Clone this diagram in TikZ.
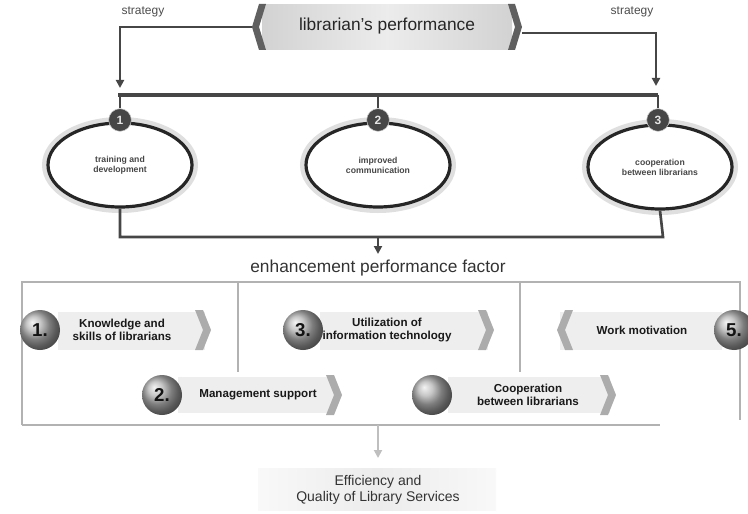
\documentclass[tikz,border=0pt]{standalone}
\usepackage{fontspec}
\setmainfont{Liberation Sans}
\usetikzlibrary{arrows.meta,shapes.geometric,calc}
\begin{document}
\begin{tikzpicture}[x=0.75pt,y=-0.75pt,
  conn/.style={draw=gray!55!black, line width=2pt},
  frameline/.style={draw=gray!60, line width=1.6pt},
  arr/.style={-{Triangle[length=6pt,width=6pt]}},
  oval/.style={ellipse, draw=black!85, line width=2.4pt, minimum width=108pt, minimum height=63pt, align=center, font=\fontsize{6.5}{7.5}\selectfont\bfseries, text=gray!55!black},
  halo/.style={ellipse, draw=gray!25, line width=5pt, minimum width=112pt, minimum height=67pt},
  numdot/.style={circle, fill=gray!55!black, draw=gray!40, minimum size=17pt, inner sep=0pt, text=gray!20, font=\bfseries\small},
  ball/.style={circle, ball color=gray!60, minimum size=30pt, inner sep=0pt, font=\fontsize{14}{14}\selectfont\bfseries, text=gray!15!black},
  itemtxt/.style={align=center, font=\fontsize{8.7}{9.7}\selectfont\bfseries, text=gray!20!black},
  bgbox/.style={fill=gray!13, draw=none},
  lbl/.style={font=\fontsize{9}{10}\selectfont, text=gray!60!black},
  chevR/.pic={\fill[gray!65] (-7,-20) -- (1,-20) -- (9,0) -- (1,20) -- (-7,20) -- (1,0) -- cycle;},
  chevL/.pic={\fill[gray!65] (7,-20) -- (-1,-20) -- (-9,0) -- (-1,20) -- (7,20) -- (-1,0) -- cycle;},
  chevRd/.pic={\fill[gray!75!black] (-6,-23) -- (1,-23) -- (8,0) -- (1,23) -- (-6,23) -- (1,0) -- cycle;},
  chevLd/.pic={\fill[gray!75!black] (6,-23) -- (-1,-23) -- (-8,0) -- (-1,23) -- (6,23) -- (-1,0) -- cycle;}
]
\useasboundingbox (0,0) rectangle (748,513);

% top performance box
\fill[left color=gray!35, right color=gray!35, middle color=gray!15] (262,5) rectangle (512,50);
\node[font=\fontsize{13}{14}\selectfont, text=black!85] (perf) at (387,26) {librarian's performance};
\pic at (260,27) {chevLd};
\pic at (514,27) {chevRd};
\coordinate (pL) at (252,27);
\coordinate (pR) at (522,33);

\node[lbl] (stL) at (143,12) {strategy};
\node[lbl] (stR) at (632,12) {strategy};

% bar
\coordinate (bL) at (118,95);
\coordinate (bR) at (658,95);
\coordinate (aL) at (120,88);
\coordinate (aR) at (656,86);
\draw[conn, arr] (pL) -| (aL);
\draw[conn, arr] (pR) -| (aR);
\draw[conn, line width=2.6pt] (bL) -- (bR);

% ellipses
\node[halo] at (120,165) {};
\node[halo] at (378,165) {};
\node[halo] at (660,167) {};
\node[oval] (e1) at (120,165) {training and\\development};
\node[oval] (e2) at (378,165) {improved\\communication};
\node[oval] (e3) at (660,167) {cooperation\\between librarians};
\node[numdot] (n1) at (120,120) {1};
\node[numdot] (n2) at (378,120) {2};
\node[numdot] (n3) at (658,120) {3};
\draw[conn] (120,95) -- (n1);
\draw[conn] (378,95) -- (n2);
\draw[conn] (658,95) -- (n3);

% lower connector
\coordinate (jL) at (120,237);
\coordinate (jR) at (663,237);
\coordinate (jM) at (378,237);
\coordinate (jA) at (378,254);
\draw[conn] (e1.south) -- (jL) -- (jR) -- (e3.south);
\draw[conn, arr] (jM) -- (jA);
\node[font=\fontsize{13}{14}\selectfont, text=black!80] (enh) at (378,268) {enhancement performance factor};

% frame
\draw[frameline] (22,425) -- (22,282) -- (740,282) -- (740,420);
\draw[frameline] (22,425) -- (660,425);
\draw[frameline] (238,282) -- (238,372);
\draw[frameline] (520,282) -- (520,372);

% item 1
\fill[bgbox] (58,312) rectangle (205,350);
\node[itemtxt] (t1) at (122,330) {Knowledge and\\skills of librarians};
\pic at (202,330) {chevR};
\node[ball] (c1) at (40,330) {1.};
% item 3
\fill[bgbox] (320,312) rectangle (488,350);
\node[itemtxt] (t3) at (387,330) {Utilization of\\information technology};
\pic at (485,330) {chevR};
\node[ball] (c3) at (303,330) {3.};
% item 5
\fill[bgbox] (560,312) rectangle (722,350);
\pic at (566,330) {chevL};
\node[itemtxt] (t5) at (642,330) {Work motivation};
\node[ball] (c5) at (734,330) {5.};
% item 2
\fill[bgbox] (178,377) rectangle (335,413);
\node[itemtxt] (t2) at (258,395) {Management support};
\pic at (333,395) {chevR};
\node[ball] (c2) at (162,395) {2.};
% item 4
\fill[bgbox] (448,377) rectangle (610,413);
\node[itemtxt] (t4) at (528,395) {Cooperation\\between librarians};
\pic at (607,395) {chevR};
\node[ball] (c4) at (432,395) {};

% bottom
\fill[left color=gray!5, right color=gray!5, middle color=gray!15] (258,468) rectangle (496,510);
\node[align=center, font=\fontsize{10.5}{11.5}\selectfont, text=black!80] (eff) at (378,490) {Efficiency and\\Quality of Library Services};
\coordinate (fb) at (378,425);
\coordinate (fa) at (378,458);
\draw[draw=gray!50, line width=1.4pt, arr] (fb) -- (fa);
\end{tikzpicture}
\end{document}
